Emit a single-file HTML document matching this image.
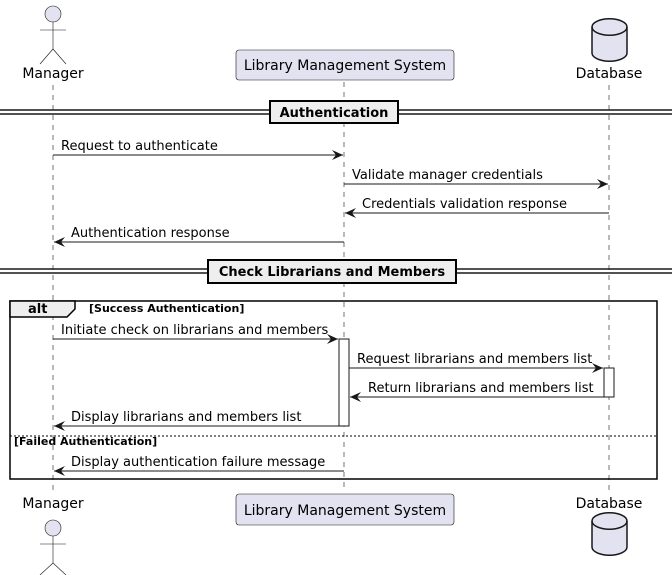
<!DOCTYPE html>
<html><head><style>body{margin:0;background:#fff}svg{display:block}text{font-family:"DejaVu Sans","Liberation Sans",sans-serif}</style></head><body>
<svg width="672" height="575" xmlns="http://www.w3.org/2000/svg">
<defs><marker id="a" markerWidth="12" markerHeight="10" refX="11" refY="5" orient="auto" markerUnits="userSpaceOnUse"><path d="M0,0 L11,5 L0,10 L4,5 Z" fill="#181818"/></marker></defs>
<g stroke="#181818" stroke-width="0.6" stroke-dasharray="5,5">
<line x1="53" y1="85" x2="53" y2="492"/><line x1="344" y1="82" x2="344" y2="492"/><line x1="609" y1="85" x2="609" y2="492"/></g>
<!-- top participants -->
<g fill="#E2E2F0" stroke="#181818" stroke-width="0.6">
<circle cx="53" cy="14" r="8"/><line x1="53" y1="22" x2="53" y2="49"/><line x1="40" y1="30" x2="66" y2="30"/><line x1="53" y1="49" x2="40" y2="64"/><line x1="53" y1="49" x2="66" y2="64"/>
<rect x="236" y="50" width="218" height="30" rx="3"/>
<circle cx="53" cy="528" r="8"/><line x1="53" y1="536" x2="53" y2="563"/><line x1="40" y1="544" x2="66" y2="544"/><line x1="53" y1="563" x2="40" y2="575"/><line x1="53" y1="563" x2="66" y2="575"/>
<rect x="236" y="494" width="218" height="31" rx="3"/>
</g>
<g fill="#E2E2F0" stroke="#181818" stroke-width="1.5">
<path d="M592,27 A17,8 0 0 1 627,27 V53 A17,8 0 0 1 592,53 Z"/><path d="M592,27 A17,8 0 0 0 627,27" fill="none"/>
<path d="M592,521 A17,8 0 0 1 627,521 V547 A17,8 0 0 1 592,547 Z"/><path d="M592,521 A17,8 0 0 0 627,521" fill="none"/>
</g>
<g font-size="14" fill="#000">
<text x="53" y="78" text-anchor="middle">Manager</text>
<text x="345" y="70" text-anchor="middle">Library Management System</text>
<text x="609" y="78" text-anchor="middle">Database</text>
<text x="53" y="508" text-anchor="middle">Manager</text>
<text x="345" y="515" text-anchor="middle">Library Management System</text>
<text x="609" y="508" text-anchor="middle">Database</text>
</g>
<!-- dividers -->
<g stroke="#181818" stroke-width="1.5">
<line x1="0" y1="110" x2="672" y2="110"/><line x1="0" y1="114" x2="672" y2="114"/>
<line x1="0" y1="269" x2="672" y2="269"/><line x1="0" y1="273" x2="672" y2="273"/>
</g>
<rect x="270" y="101" width="128" height="22" fill="#EEEEEE" stroke="#000" stroke-width="2"/>
<text x="334" y="117" text-anchor="middle" font-size="13" font-weight="bold">Authentication</text>
<rect x="208" y="260" width="248" height="23" fill="#EEEEEE" stroke="#000" stroke-width="2"/>
<text x="332" y="276" text-anchor="middle" font-size="13" font-weight="bold">Check Librarians and Members</text>
<!-- alt frame -->
<rect x="10" y="301" width="647" height="178" fill="none" stroke="#000" stroke-width="1.5"/>
<path d="M10,301 H75 V309 L67,317 H10 Z" fill="#EEEEEE" stroke="#000" stroke-width="1.5"/>
<text x="28" y="313" font-size="13" font-weight="bold">alt</text>
<text x="89" y="312" font-size="11" font-weight="bold">[Success Authentication]</text>
<line x1="10" y1="436" x2="657" y2="436" stroke="#000" stroke-width="1" stroke-dasharray="2,2"/>
<text x="14" y="445" font-size="11" font-weight="bold">[Failed Authentication]</text>
<!-- activations -->
<rect x="339" y="339" width="10" height="87" fill="#fff" stroke="#181818"/>
<rect x="604" y="368" width="10" height="29" fill="#fff" stroke="#181818"/>
<!-- messages -->
<g stroke="#181818" stroke-width="1" marker-end="url(#a)">
<line x1="53" y1="155" x2="343" y2="155"/>
<line x1="344" y1="184" x2="608" y2="184"/>
<line x1="609" y1="213" x2="345" y2="213"/>
<line x1="344" y1="242" x2="54" y2="242"/>
<line x1="53" y1="339" x2="338" y2="339"/>
<line x1="349" y1="368" x2="603" y2="368"/>
<line x1="604" y1="397" x2="350" y2="397"/>
<line x1="339" y1="426" x2="54" y2="426"/>
<line x1="344" y1="471" x2="54" y2="471"/>
</g>
<g font-size="13" fill="#000">
<text x="61" y="150">Request to authenticate</text>
<text x="352" y="179">Validate manager credentials</text>
<text x="362" y="208">Credentials validation response</text>
<text x="71" y="237">Authentication response</text>
<text x="61" y="334">Initiate check on librarians and members</text>
<text x="357" y="363">Request librarians and members list</text>
<text x="368" y="392">Return librarians and members list</text>
<text x="71" y="421">Display librarians and members list</text>
<text x="71" y="466">Display authentication failure message</text>
</g>
</svg>
</body></html>
